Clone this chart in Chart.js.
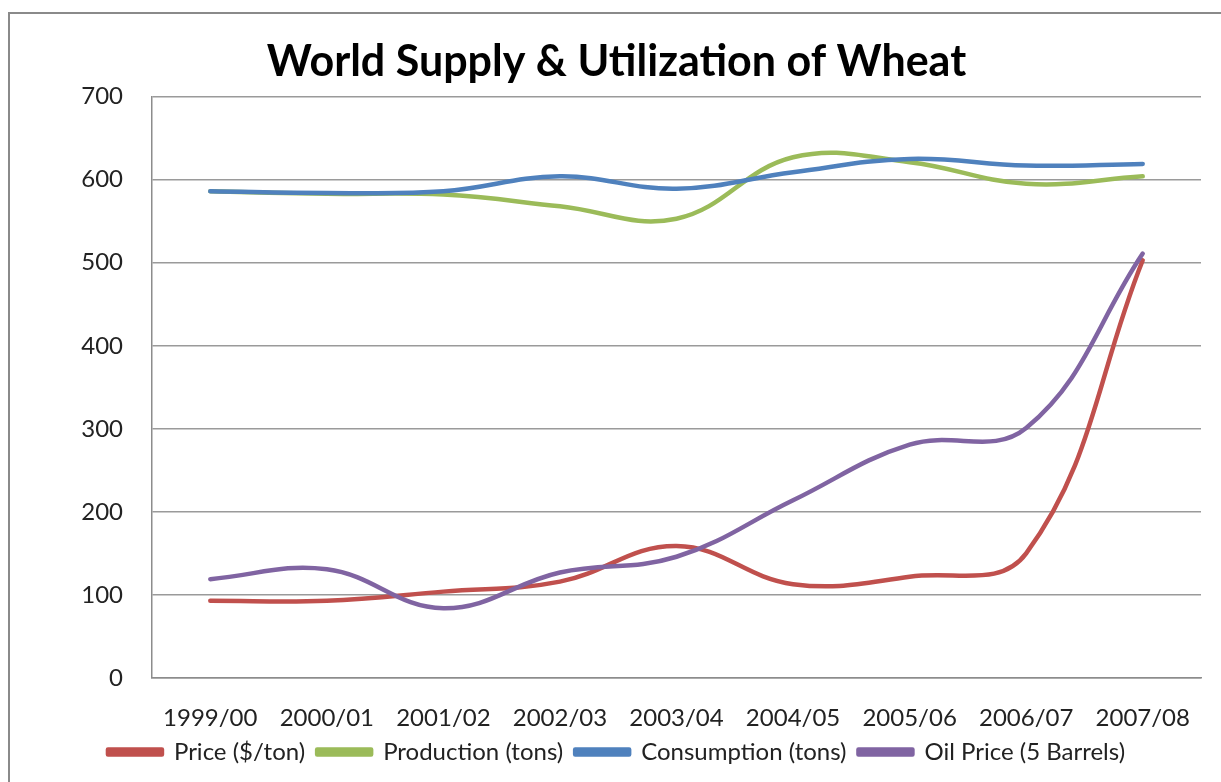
<!DOCTYPE html>
<html>
<head>
<meta charset="utf-8">
<script src="https://cdn.jsdelivr.net/npm/chart.js@4"></script>
<style>
  html, body { margin: 0; padding: 0; background: #fff; overflow: hidden; }
  #wrap { position: relative; width: 1221px; height: 782px; }
  #frame { position: absolute; left: 8px; top: 12px; width: 1300px; height: 900px;
           border: 2px solid #8a8a8a; box-sizing: border-box; pointer-events: none; }
  canvas { position: absolute; left: 0; top: 0; }
</style>
</head>
<body>
<div id="wrap">
  <canvas id="chart" width="1221" height="782"></canvas>
  <div id="frame"></div>
</div>
<script>
// Marketing years
const years = ['1999/00', '2000/01', '2001/02', '2002/03', '2003/04', '2004/05', '2005/06', '2006/07', '2007/08'];

// Series values
const price       = [93, 93, 104, 116, 159, 113, 122, 150, 503];
const production  = [586, 583, 582, 568, 553, 627, 621, 595, 604];
const consumption = [586, 584, 586, 604, 589, 609, 625, 617, 619];
const oilPrice    = [119, 131, 84, 127, 146, 214, 281, 301, 511];

// Value axis
const yMin = 0, yMax = 700, yStep = 100;

const FONT = 'Lato, "Open Sans", sans-serif';

function series(label, data, color, order) {
  return {
    label, data, order,
    borderColor: color,
    backgroundColor: color,
    borderWidth: 4.5,
    pointRadius: 0,
    pointHoverRadius: 0,
    fill: false,
    tension: 0.4,
    borderCapStyle: 'round',
    borderJoinStyle: 'round'
  };
}

new Chart(document.getElementById('chart'), {
  type: 'line',
  data: {
    labels: years,
    datasets: [
      series('Price ($/ton)', price, '#C0504D', 4),
      series('Production (tons)', production, '#9BBB59', 3),
      series('Consumption (tons)', consumption, '#4F81BD', 2),
      series('Oil Price (5 Barrels)', oilPrice, '#8064A2', 1)
    ]
  },
  options: {
    responsive: false,
    animation: false,
    layout: { padding: { top: 12, right: 20, bottom: 8, left: 32 } },
    plugins: {
      title: {
        display: true,
        text: 'World Supply & Utilization of Wheat',
        color: '#000',
        font: { family: FONT, size: 43, weight: 'bold' },
        padding: { top: 24, bottom: 9 }
      },
      legend: {
        position: 'bottom',
        labels: {
          color: '#222',
          font: { family: FONT, size: 24 },
          boxWidth: 54,
          boxHeight: 5,
          padding: 12,
          sort: (a, b) => a.datasetIndex - b.datasetIndex
        }
      },
      tooltip: { enabled: false }
    },
    scales: {
      x: {
        offset: true,
        grid: { display: false, drawTicks: false },
        border: { display: true, color: '#8c8c8c', width: 1.5 },
        ticks: { color: '#222', font: { family: FONT, size: 24 }, padding: 26, maxRotation: 0 },
        afterFit: (s) => { s.height = 50; }
      },
      y: {
        min: yMin, max: yMax,
        ticks: { stepSize: yStep, color: '#222', font: { family: FONT, size: 24 }, padding: 29 },
        grid: { color: '#9a9a9a', lineWidth: 1.5, drawTicks: false },
        border: { display: true, color: '#8c8c8c', width: 1.5 },
        afterFit: (s) => { s.width = 120; }
      }
    }
  }
});
</script>
</body>
</html>
